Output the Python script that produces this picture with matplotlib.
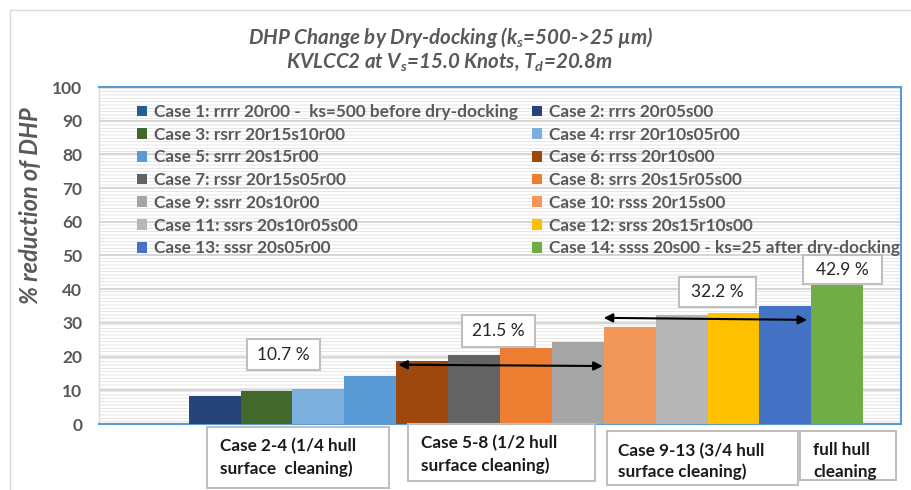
import matplotlib
matplotlib.use('Agg')
import matplotlib.pyplot as plt
from matplotlib.patches import Rectangle, Patch
from matplotlib.lines import Line2D

plt.rcParams['font.family'] = ['Lato', 'DejaVu Sans']
plt.rcParams['mathtext.fontset'] = 'custom'
plt.rcParams['mathtext.it'] = 'Lato:italic:bold'
plt.rcParams['mathtext.rm'] = 'Lato:bold'
plt.rcParams['mathtext.bf'] = 'Lato:bold'
plt.rcParams['hatch.linewidth'] = 0.5

# ---------------- data ----------------
cases = ['Case 1: rrrr 20r00 -  ks=500 before dry-docking',
         'Case 2: rrrs 20r05s00',
         'Case 3: rsrr 20r15s10r00',
         'Case 4: rrsr 20r10s05r00',
         'Case 5: srrr 20s15r00',
         'Case 6: rrss 20r10s00',
         'Case 7: rssr 20r15s05r00',
         'Case 8: srrs 20s15r05s00',
         'Case 9: ssrr 20s10r00',
         'Case 10: rsss 20r15s00',
         'Case 11: ssrs 20s10r05s00',
         'Case 12: srss 20s15r10s00',
         'Case 13: sssr 20s05r00',
         'Case 14: ssss 20s00 - ks=25 after dry-docking']
values = [0.0, 8.4, 9.7, 10.4, 14.3, 18.7, 20.5, 22.6, 24.3, 28.7, 32.4, 33.0, 35.0, 42.9]
colors = ['#255E91', '#264478', '#43682B', '#7CAFDD', '#5B9BD5', '#9E480E', '#636363',
          '#ED7D31', '#A5A5A5', '#F1975A', '#B7B7B7', '#FFC000', '#4472C4', '#70AD47']
group_pct = ['10.7 %', '21.5 %', '32.2 %', '42.9 %']
group_labels = [('Case 2-4 (1/4 hull', 'surface  cleaning)'),
                ('Case 5-8 (1/2 hull', 'surface cleaning)'),
                ('Case 9-13 (3/4 hull', 'surface cleaning)'),
                ('full hull', 'cleaning')]
yticks = list(range(0, 101, 10))
title_lines = ['DHP Change by Dry-docking ($k_s$=500->25 µm)',
               'KVLCC2 at $V_s$=15.0 Knots, $T_d$=20.8m']
ylabel = '% reduction of DHP'

# ---------------- figure ----------------
W, H = 911, 490
fig = plt.figure(figsize=(W / 100, H / 100), dpi=100)
fig.patch.set_facecolor('white')


def fx(px):
    return px / W


def fy(py):
    return 1 - py / H


ax = fig.add_axes([fx(99), fy(424), fx(901) - fx(99), fy(87) - fy(424)])
ax.set_facecolor('white')
ax.add_patch(Rectangle((0, 0), 1, 1, transform=ax.transAxes, facecolor='white',
                       edgecolor='#dcdcdc', hatch='-----', lw=0, zorder=0))

xs = list(range(len(values)))
ax.bar(xs, values, width=1.0, color=colors, zorder=3, linewidth=0)
ax.set_xlim(-0.5 - 0.73, len(values) - 0.5 + 0.73)
ax.set_ylim(0, 100)
ax.set_yticks(yticks)
ax.set_xticks([])
ax.set_axisbelow(True)
ax.yaxis.grid(True, color='#d4d4d4', lw=1.3)
ax.tick_params(axis='y', length=0, pad=12, labelsize=12.5, labelcolor='#595959')
for lab in ax.get_yticklabels():
    lab.set_fontweight('bold')
for s in ['top', 'right', 'bottom']:
    ax.spines[s].set_color('#5B9BD5')
    ax.spines[s].set_linewidth(1.5)
ax.spines['left'].set_color('#d9d9d9')
ax.spines['left'].set_linewidth(1)

# legends (two columns, row-wise ordering like the original)
handles = [Patch(facecolor=c, edgecolor='none', label=l) for c, l in zip(colors, cases)]
legkw = dict(loc='upper left', bbox_transform=fig.transFigure, frameon=False,
             handlelength=0.58, handleheight=0.58, handletextpad=0.4,
             labelspacing=0.39, borderpad=0, borderaxespad=0,
             labelcolor='#595959', prop={'weight': 'bold', 'size': 12.4})
leg1 = ax.legend(handles=handles[0::2], bbox_to_anchor=(fx(137), fy(104)), **legkw)
ax.add_artist(leg1)
leg2 = ax.legend(handles=handles[1::2], bbox_to_anchor=(fx(532), fy(104)), **legkw)
leg1.set_zorder(6)
leg2.set_zorder(6)

# arrows
arrow = dict(arrowstyle='<|-|>', color='black', lw=1.5, mutation_scale=13, shrinkA=0, shrinkB=0)
ax.annotate('', xy=(8.48, 17.2), xytext=(4.54, 17.6), arrowprops=arrow, zorder=5)
ax.annotate('', xy=(12.42, 30.9), xytext=(8.5, 31.5), arrowprops=arrow, zorder=5)

# percentage boxes
pct_boxes = [(247, 339, 320, 370), (462, 315, 535, 347), (679, 277, 756, 307), (803, 255, 882, 284)]
for (x0, y0, x1, y1), t in zip(pct_boxes, group_pct):
    fig.add_artist(Rectangle((fx(x0), fy(y1)), fx(x1) - fx(x0), fy(y0) - fy(y1),
                             transform=fig.transFigure, facecolor='white',
                             edgecolor='#bfbfbf', lw=1.5, zorder=7))
    fig.text(fx((x0 + x1) / 2), fy((y0 + y1) / 2), t, ha='center', va='center',
             fontsize=12.5, color='#262626', zorder=8)

# bottom group boxes
grp_boxes = [(207, 427, 389, 488, 220, 446, 469),
             (408, 424, 595, 481, 421, 443, 466),
             (607, 431, 798, 485, 618, 451, 472),
             (800, 431, 896, 480, 813, 450, 472)]
for (x0, y0, x1, y1, tx, l1, l2), (t1, t2) in zip(grp_boxes, group_labels):
    fig.add_artist(Rectangle((fx(x0), fy(y1)), fx(x1) - fx(x0), fy(y0) - fy(y1),
                             transform=fig.transFigure, facecolor='white',
                             edgecolor='#bfbfbf', lw=1.5, zorder=7))
    fig.text(fx(tx), fy(l1), t1, ha='left', va='center', fontsize=12.3,
             fontweight='bold', color='#1a1a1a', zorder=8)
    fig.text(fx(tx), fy(l2), t2, ha='left', va='center', fontsize=12.3,
             fontweight='bold', color='#1a1a1a', zorder=8)

# title and y label
fig.text(fx(451), fy(37), title_lines[0], ha='center', va='center', fontsize=14.8,
         fontweight='bold', style='italic', color='#595959')
fig.text(fx(450), fy(62), title_lines[1], ha='center', va='center', fontsize=14.8,
         fontweight='bold', style='italic', color='#595959')
fig.text(fx(31), fy(206), ylabel, rotation=90, ha='center', va='center', fontsize=17,
         fontweight='bold', style='italic', color='#595959')

# outer chart border
fig.add_artist(Line2D([fx(10), fx(10)], [0, fy(10)], transform=fig.transFigure,
                      color='#d9d9d9', lw=1))
fig.add_artist(Line2D([fx(10), 1], [fy(10), fy(10)], transform=fig.transFigure,
                      color='#d9d9d9', lw=1))

fig.savefig('out.png', dpi=100, facecolor='white')
